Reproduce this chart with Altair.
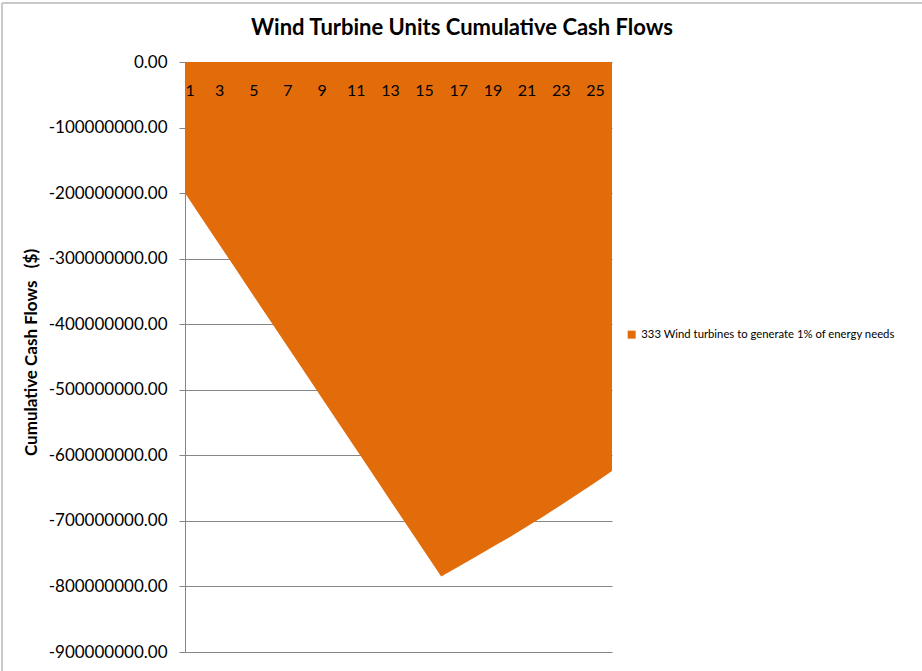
import altair as alt
import pandas as pd

years = list(range(1, 27))
cumulative = [
    -200e6, -239e6, -278e6, -317e6, -356e6, -395e6, -434e6, -473e6,
    -512e6, -551e6, -590e6, -629e6, -668e6, -707e6, -746e6, -785e6,
    -770e6, -755e6, -740e6, -725e6, -709e6, -693e6, -676e6, -659e6,
    -642e6, -624e6,
]
series_name = "333 Wind turbines to generate 1% of energy needs"
chart_title = "Wind Turbine Units Cumulative Cash Flows"
x_ticks = list(range(1, 26, 2))
y_ticks = [0, -100e6, -200e6, -300e6, -400e6, -500e6, -600e6, -700e6, -800e6, -900e6]

df = pd.DataFrame({"Year": years, "Cash": cumulative, "Series": series_name})
title_df = pd.DataFrame({"t": [chart_title]})

FONT = "Lato"
BORDER = "#c8c8c8"

area = alt.Chart(df).mark_area(color="#E36C0A", opacity=1).encode(
    x=alt.X("Year:Q",
            scale=alt.Scale(domain=[1, 26], nice=False, zero=False),
            axis=alt.Axis(values=x_ticks, format="d", title=None, orient="bottom",
                          offset=-590, grid=False, ticks=False, domain=False,
                          labelPadding=20, labelFontSize=16, labelFont=FONT,
                          labelColor="#000000", zindex=2)),
    y=alt.Y("Cash:Q",
            scale=alt.Scale(domain=[-900e6, 0], nice=False),
            axis=alt.Axis(values=y_ticks, format=".2f",
                          labelExpr="replace(datum.label, '\u2212', '-')",
                          title="Cumulative Cash Flows\u00a0\u00a0\u00a0($)",
                          grid=True, gridColor="#868686", gridWidth=1,
                          domainColor="#868686", tickColor="#868686", tickSize=6,
                          labelFontSize=17, labelFont=FONT, labelColor="#000000",
                          labelPadding=12,
                          titleFont=FONT, titleFontSize=17, titleFontWeight="bold",
                          titleColor="#000000", titleX=-154, titleY=290,
                          titleAngle=270, titleAlign="center", titleBaseline="middle")),
    color=alt.Color("Series:N",
                    scale=alt.Scale(range=["#E36C0A"]),
                    legend=alt.Legend(title=None, orient="none", legendX=441, legendY=267,
                                      symbolType="square", symbolSize=64,
                                      symbolStrokeWidth=0, labelLimit=0,
                                      labelFont=FONT, labelFontSize=11.3,
                                      labelColor="#000000")),
)

title_mark = alt.Chart(title_df).mark_text(
    font=FONT, fontSize=22, fontWeight="bold", color="#000000",
    align="center", baseline="middle",
).encode(text="t:N", x=alt.value(277), y=alt.value(-34))

# chart-area border (left and top edges, as visible in the reference)
border_left = alt.Chart(df).mark_rule(color=BORDER, strokeWidth=1.5).encode(
    x=alt.value(-183), y=alt.value(-59), y2=alt.value(610))
border_top = alt.Chart(df).mark_rule(color=BORDER, strokeWidth=1.5).encode(
    x=alt.value(-183), x2=alt.value(740), y=alt.value(-59))

chart = alt.layer(area, title_mark, border_left, border_top).properties(
    width=427, height=590,
    autosize="none",
    padding={"left": 185, "top": 62, "right": 310, "bottom": 19},
).configure(background="white").configure_view(strokeWidth=0, stroke="transparent")

chart.save("out.html", embed_options={"renderer": "svg", "actions": False})
